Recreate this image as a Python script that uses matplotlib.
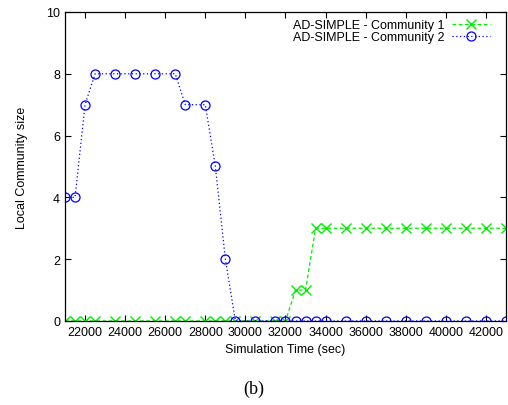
import matplotlib
matplotlib.use("Agg")
from matplotlib import pyplot as plt

# simulation time (sec)
times = [21000, 21500, 22000, 22500, 23500, 24500, 25500, 26500, 27000,
         28000, 28500, 29000, 29500, 30500, 31500, 32000, 32500, 33000,
         33500, 34000, 35000, 36000, 37000, 38000, 39000, 40000, 41000,
         42000, 43000]
community1 = [0, 0, 0, 0, 0, 0, 0, 0, 0, 0, 0, 0, 0, 0, 0, 0, 1, 1,
              3, 3, 3, 3, 3, 3, 3, 3, 3, 3, 3]
community2 = [4, 4, 7, 8, 8, 8, 8, 8, 7, 7, 5, 2, 0, 0, 0, 0, 0, 0,
              0, 0, 0, 0, 0, 0, 0, 0, 0, 0, 0]
x_ticks = list(range(22000, 42001, 2000))
y_ticks = [0, 2, 4, 6, 8, 10]

plt.rcParams["font.family"] = ["Liberation Sans", "DejaVu Sans"]

fig = plt.figure(figsize=(5.08, 4.06), dpi=100)
ax = fig.add_axes([0.128, 0.207, 0.868, 0.761])

ax.plot(times, community1, color="#00ee00", linestyle=(0, (3, 2)), linewidth=0.9,
        marker="x", markersize=6.5, markeredgewidth=1.0,
        label="AD-SIMPLE - Community 1")
ax.plot(times, community2, color="#0000ff", linestyle=(0, (1, 2)), linewidth=0.9,
        marker="o", markersize=6.5, markerfacecolor="none", markeredgewidth=0.9,
        label="AD-SIMPLE - Community 2")

ax.set_xlim(21000, 43000)
ax.set_ylim(0, 10)
ax.set_xticks(x_ticks)
ax.set_yticks(y_ticks)
ax.tick_params(direction="in", top=True, right=True, labelsize=9, length=4)
for spine in ax.spines.values():
    spine.set_linewidth(0.9)

ax.set_xlabel("Simulation Time (sec)", fontsize=9, labelpad=4)
ax.set_ylabel("Local Community size", fontsize=9, labelpad=13)

ax.legend(loc="upper right", bbox_to_anchor=(0.975, 0.992), frameon=False,
          markerfirst=False, fontsize=9, handlelength=3, handletextpad=0.65,
          borderaxespad=0, labelspacing=0.0)

fig.text(0.5, 0.042, "(b)", ha="center", va="center", fontsize=13,
         family=["Liberation Serif", "DejaVu Serif"])

plt.savefig("out.png", dpi=100)
